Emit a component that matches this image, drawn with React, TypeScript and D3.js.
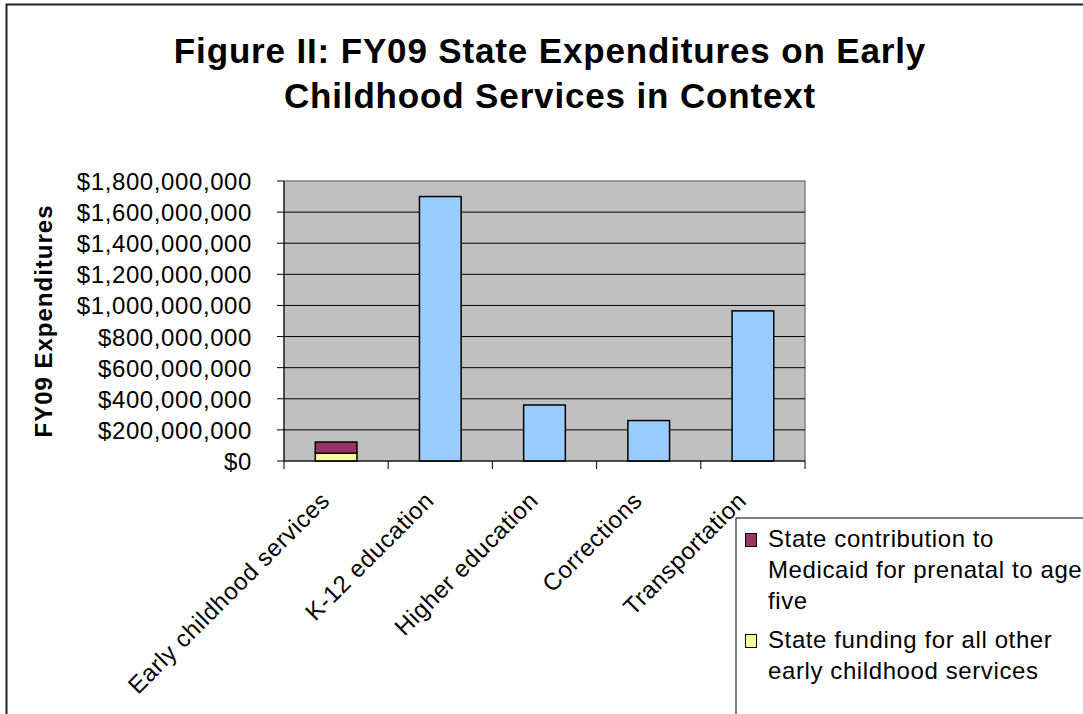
import React from "react";
import * as d3 from "d3";

const categories = [
  "Early childhood services",
  "K-12 education",
  "Higher education",
  "Corrections",
  "Transportation",
];
const otherEarlyValues = [50000000, 0, 0, 0, 0];
const medicaidValues = [72000000, 0, 0, 0, 0];
const sectorValues = [0, 1700000000, 360000000, 260000000, 965000000];
const seriesKeys = ["other", "medicaid", "sector"];
const seriesColors: Record<string, string> = {
  other: "#FFFF99",
  medicaid: "#993366",
  sector: "#99CCFF",
};
const legendItems = [
  { key: "medicaid", lines: ["State contribution to", "Medicaid for prenatal to age", "five"] },
  { key: "other", lines: ["State funding for all other", "early childhood services"] },
];
const titleLines = [
  "Figure II: FY09 State Expenditures on Early",
  "Childhood Services in Context",
];
const yAxisTitle = "FY09 Expenditures";
const yMax = 1800000000;

const FONT = "'Liberation Sans', Arial, sans-serif";
const BODY_SIZE = 24;
const BODY_LS = 0.6;

export default function App() {
  const left = 284, right = 805, top = 181, bottom = 461;
  const rows = categories.map((c, i) => ({
    cat: c,
    other: otherEarlyValues[i],
    medicaid: medicaidValues[i],
    sector: sectorValues[i],
  }));
  const stacked = d3.stack<any>().keys(seriesKeys)(rows);
  const x = d3.scaleBand().domain(categories).range([left, right]).paddingInner(0.6).paddingOuter(0.3);
  const y = d3.scaleLinear().domain([0, yMax]).range([bottom, top]);
  const yTicks = y.ticks(9);
  const fmt = d3.format("$,.0f");
  const step = x.step();
  const boundaries = d3.range(categories.length + 1).map((i) => left + i * step);

  return (
    <svg
      width={1083}
      height={714}
      style={{ position: "absolute", left: 0, top: 0, background: "#fff" }}
      fontFamily={FONT}
    >
      <rect x={0} y={0} width={1083} height={714} fill="#fff" />
      <rect x={6.5} y={4.5} width={1200} height={900} fill="none" stroke="#222" strokeWidth={2} />
      {titleLines.map((t, i) => (
        <text
          key={i}
          x={550}
          y={63 + i * 45}
          textAnchor="middle"
          fontSize={35}
          fontWeight="bold"
          letterSpacing={0.85}
        >
          {t}
        </text>
      ))}
      <rect x={left} y={top} width={right - left} height={bottom - top} fill="#C0C0C0" stroke="#808080" strokeWidth={1.5} />
      {yTicks.map((t) => (
        <g key={t}>
          {t > 0 && t < yMax && (
            <line x1={left} x2={right} y1={y(t)} y2={y(t)} stroke="#000" strokeWidth={1} />
          )}
          <line x1={left - 7} x2={left} y1={y(t)} y2={y(t)} stroke="#000" strokeWidth={1} />
          <text x={252} y={y(t) + 9} textAnchor="end" fontSize={BODY_SIZE} letterSpacing={BODY_LS}>
            {fmt(t)}
          </text>
        </g>
      ))}
      {stacked.map((s) => (
        <g key={s.key}>
          {s.map((d, i) =>
            d[1] - d[0] > 0 ? (
              <rect
                key={i}
                x={x(categories[i])!}
                y={y(d[1])}
                width={x.bandwidth()}
                height={y(d[0]) - y(d[1])}
                fill={seriesColors[s.key]}
                stroke="#000"
                strokeWidth={1.5}
              />
            ) : null
          )}
        </g>
      ))}
      <line x1={left} x2={left} y1={top} y2={bottom} stroke="#000" strokeWidth={1} />
      <line x1={left} x2={right} y1={bottom} y2={bottom} stroke="#000" strokeWidth={1} />
      {boundaries.map((b, i) => (
        <line key={i} x1={b} x2={b} y1={bottom} y2={bottom + 8} stroke="#000" strokeWidth={1} />
      ))}
      {categories.map((c) => {
        const cx = x(c)! + x.bandwidth() / 2 - 5;
        const cy = 502;
        return (
          <text
            key={c}
            x={cx}
            y={cy}
            textAnchor="end"
            fontSize={BODY_SIZE}
            letterSpacing={BODY_LS}
            transform={`rotate(-45 ${cx} ${cy})`}
          >
            {c}
          </text>
        );
      })}
      <text
        x={0}
        y={0}
        transform={`translate(52 ${(top + bottom) / 2}) rotate(-90)`}
        textAnchor="middle"
        fontSize={24}
        fontWeight="bold"
        letterSpacing={1}
      >
        {yAxisTitle}
      </text>
      <rect x={736} y={518} width={400} height={300} fill="#fff" stroke="#000" strokeWidth={1} />
      {(() => {
        let ly = 547;
        const out: any[] = [];
        legendItems.forEach((it, k) => {
          if (k > 0) ly += 39 - 31;
          out.push(
            <rect
              key={"s" + k}
              x={745.5}
              y={ly - 13.5}
              width={11}
              height={13}
              fill={seriesColors[it.key]}
              stroke="#000"
              strokeWidth={1}
            />
          );
          it.lines.forEach((ln, j) => {
            out.push(
              <text key={k + "-" + j} x={768} y={ly} fontSize={BODY_SIZE} letterSpacing={BODY_LS}>
                {ln}
              </text>
            );
            ly += 31;
          });
        });
        return out;
      })()}
    </svg>
  );
}
